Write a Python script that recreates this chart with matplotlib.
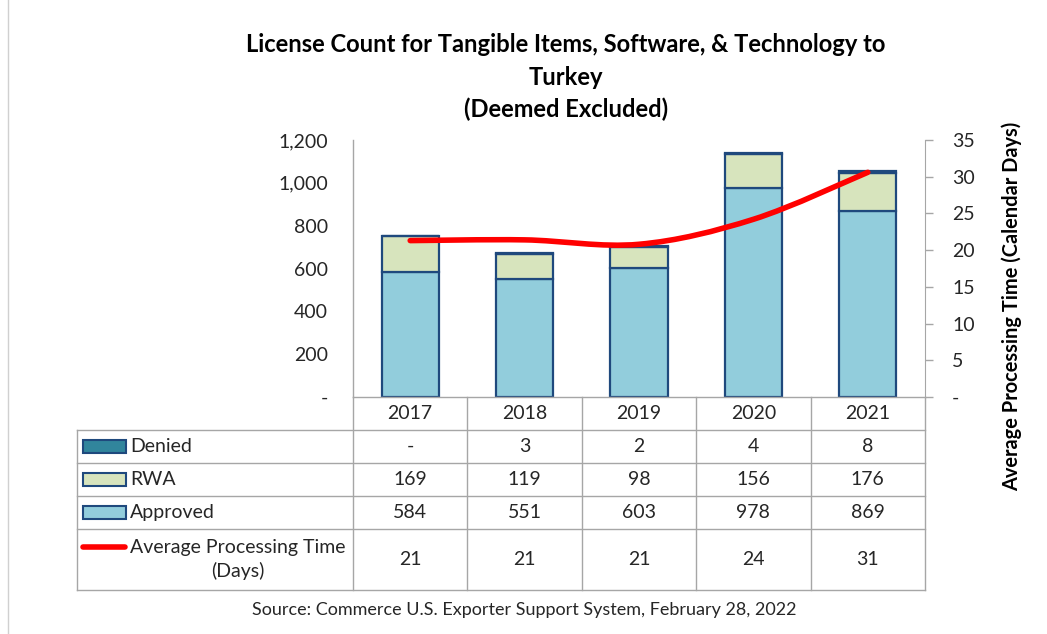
import matplotlib
matplotlib.use("Agg")
from matplotlib import pyplot as plt
from matplotlib.path import Path
from matplotlib.patches import PathPatch, Rectangle
from matplotlib.lines import Line2D
import numpy as np

plt.rcParams['font.family'] = ['Lato', 'DejaVu Sans']

# data
years = ["2017", "2018", "2019", "2020", "2021"]
approved = [584, 551, 603, 978, 869]
rwa = [169, 119, 98, 156, 176]
denied = [0, 3, 2, 4, 8]
avg_days = [21.3, 21.4, 20.8, 24.2, 30.6]  # line as drawn; table shows rounded

TEXT = '#262626'
GRID = '#A6A6A6'
EDGE = '#1F497D'
C_APPROVED = '#92CDDC'
C_RWA = '#D7E4BD'
C_DENIED = '#31859C'

W, H = 1047, 634
FS = 14


def fx(px):
    return px / W


def fy(py):
    return 1 - py / H


def smooth_path(xs, ys):
    # catmull-rom style bezier, like Excel's smoothed line
    pts = list(zip(xs, ys))
    verts = [pts[0]]
    codes = [Path.MOVETO]
    n = len(pts)
    for i in range(n - 1):
        p0 = pts[max(i - 1, 0)]
        p1 = pts[i]
        p2 = pts[i + 1]
        p3 = pts[min(i + 2, n - 1)]
        c1 = (p1[0] + (p2[0] - p0[0]) / 6, p1[1] + (p2[1] - p0[1]) / 6)
        c2 = (p2[0] - (p3[0] - p1[0]) / 6, p2[1] - (p3[1] - p1[1]) / 6)
        verts += [c1, c2, p2]
        codes += [Path.CURVE4] * 3
    return Path(verts, codes)


def main():
    fig = plt.figure(figsize=(W / 100, H / 100), dpi=100)

    plot_l, plot_r, plot_t, plot_b = 353, 925, 140, 397
    ax = fig.add_axes([fx(plot_l), fy(plot_b), fx(plot_r) - fx(plot_l), fy(plot_t) - fy(plot_b)])

    x = np.arange(len(years))
    bw = 0.5
    bottom2 = np.array(approved) + np.array(rwa)
    ax.bar(x, approved, bw, color=C_APPROVED, edgecolor=EDGE, linewidth=1.6, zorder=2)
    ax.bar(x, rwa, bw, bottom=approved, color=C_RWA, edgecolor=EDGE, linewidth=1.6, zorder=2)
    ax.bar(x, denied, bw, bottom=bottom2, color=C_DENIED, edgecolor=EDGE, linewidth=1.6, zorder=2)

    ax.set_xlim(-0.5, len(years) - 0.5)
    ax.set_ylim(0, 1200)
    ax.set_xticks([])
    lticks = list(range(0, 1201, 200))
    ax.set_yticks(lticks)
    ax.set_yticklabels(["-" if t == 0 else f"{t:,}" for t in lticks])
    ax.tick_params(axis='y', length=0, pad=18, labelsize=FS, labelcolor=TEXT)
    for s in ['top', 'right']:
        ax.spines[s].set_visible(False)
    for s in ['left', 'bottom']:
        ax.spines[s].set_color(GRID)
        ax.spines[s].set_linewidth(1)

    ax2 = ax.twinx()
    ax2.set_ylim(0, 35)
    rticks = list(range(0, 36, 5))
    ax2.set_yticks(rticks)
    ax2.set_yticklabels(["-" if t == 0 else str(t) for t in rticks])
    ax2.tick_params(axis='y', length=6, width=1, color=GRID, pad=13.5, labelsize=FS, labelcolor=TEXT)
    for s in ['top', 'left', 'bottom']:
        ax2.spines[s].set_visible(False)
    ax2.spines['right'].set_color(GRID)
    ax2.add_patch(PathPatch(smooth_path(x, avg_days), fill=False, edgecolor='#FF0000',
                            linewidth=4, capstyle='round', joinstyle='round', zorder=3))

    # data table drawn in pixel coordinates
    tax = fig.add_axes([0, 0, 1, 1])
    tax.set_xlim(0, W)
    tax.set_ylim(H, 0)
    tax.axis('off')

    col_edges = np.linspace(plot_l, plot_r, len(years) + 1)
    col_mid = (col_edges[:-1] + col_edges[1:]) / 2
    row_edges = [397, 430, 463, 496, 529, 590]
    table_l = 77

    for xe in col_edges:
        tax.add_line(Line2D([xe, xe], [row_edges[0], row_edges[-1]], color=GRID, lw=1))
    tax.add_line(Line2D([table_l, table_l], [row_edges[1], row_edges[-1]], color=GRID, lw=1))
    for ye in row_edges[1:]:
        tax.add_line(Line2D([table_l, plot_r], [ye, ye], color=GRID, lw=1))

    row_mid = [(row_edges[i] + row_edges[i + 1]) / 2 for i in range(len(row_edges) - 1)]
    for cx, yr in zip(col_mid, years):
        tax.text(cx, row_mid[0], yr, ha='center', va='center', fontsize=FS, color=TEXT)

    rows = [
        ("Denied", C_DENIED, ["-" if v == 0 else str(v) for v in denied]),
        ("RWA", C_RWA, [str(v) for v in rwa]),
        ("Approved", C_APPROVED, [str(v) for v in approved]),
    ]
    for k, (name, col, vals) in enumerate(rows):
        ym = row_mid[k + 1]
        tax.add_patch(Rectangle((83, ym - 6.5), 43, 13, facecolor=col, edgecolor=EDGE, lw=1.5))
        tax.text(130, ym, name, ha='left', va='center', fontsize=FS, color=TEXT)
        for cx, v in zip(col_mid, vals):
            tax.text(cx, ym, v, ha='center', va='center', fontsize=FS, color=TEXT)

    ym = row_mid[4]
    tax.add_line(Line2D([83, 125], [ym - 13, ym - 13], color='#FF0000', lw=4, solid_capstyle='round'))
    tax.text(130, ym, "Average Processing Time\n(Days)", ha='left', va='center',
             multialignment='center', fontsize=FS, color=TEXT, linespacing=1.37)
    for cx, v in zip(col_mid, avg_days):
        tax.text(cx, ym, f"{v:.0f}", ha='center', va='center', fontsize=FS, color=TEXT)

    # outer frame edge at the left
    tax.add_line(Line2D([8, 8], [0, H], color='#D0D0D0', lw=1))

    fig.text(fx(566), fy(77.5), "License Count for Tangible Items, Software, & Technology to\nTurkey\n(Deemed Excluded)",
             ha='center', va='center', fontsize=17.1, fontweight='bold', color='black', linespacing=1.48)
    fig.text(fx(1012), fy(306), "Average Processing Time (Calendar Days)", rotation=90,
             ha='center', va='center', fontsize=14.4, fontweight='bold', color='black')
    fig.text(fx(524), fy(610), "Source: Commerce U.S. Exporter Support System, February 28, 2022",
             ha='center', va='center', fontsize=13, color=TEXT)

    fig.savefig("out.png", dpi=100)


if __name__ == "__main__":
    main()
